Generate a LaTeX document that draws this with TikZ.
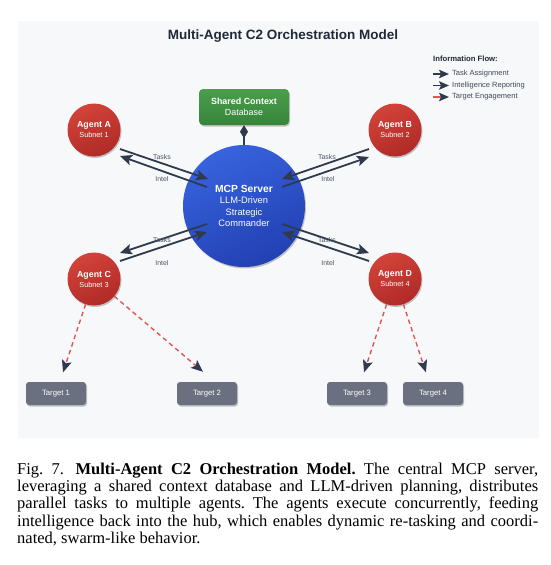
\documentclass[tikz,border=0pt]{standalone}
\usepackage{fontspec}
\setmainfont{Liberation Serif}
\newfontfamily\arialf{Liberation Sans}
\usetikzlibrary{arrows.meta,calc,shadows}
\definecolor{panelbg}{HTML}{F7F8FA}
\definecolor{titlec}{HTML}{1F2937}
\definecolor{agtop}{HTML}{D2433A}
\definecolor{agbot}{HTML}{B02A26}
\definecolor{mcptop}{HTML}{3763DE}
\definecolor{mcpbot}{HTML}{2240B2}
\definecolor{dbtop}{HTML}{4A9E4D}
\definecolor{dbbot}{HTML}{378439}
\definecolor{tgray}{HTML}{6B7080}
\definecolor{arrowc}{HTML}{2F3A4C}
\definecolor{redc}{HTML}{E25555}
\definecolor{lblc}{HTML}{4B5563}
\begin{document}
\begin{tikzpicture}[x=1pt,y=-1pt,
  shad/.style={drop shadow={shadow xshift=1pt,shadow yshift=-1.5pt,opacity=0.22,fill=black}},
  agent/.style={circle,minimum size=53pt,inner sep=0pt,shad,top color=agtop,bottom color=agbot,shading angle=25,text=white,align=center,font=\arialf\fontsize{7.3}{10}\selectfont},
  mcpnode/.style={circle,minimum size=122pt,inner sep=0pt,shad,top color=mcptop,bottom color=mcpbot,shading angle=25,text=white,align=center,font=\arialf\fontsize{9.3}{11.3}\selectfont},
  dbbox/.style={rectangle,rounded corners=4pt,minimum width=90pt,minimum height=36pt,inner sep=0pt,shad,top color=dbtop,bottom color=dbbot,text=white,align=center,font=\arialf\fontsize{8.9}{11}\selectfont},
  target/.style={rectangle,rounded corners=3pt,minimum width=60pt,minimum height=23pt,inner sep=0pt,fill=tgray,shad,text=white,font=\arialf\fontsize{7.7}{9}\selectfont},
  flow/.style={draw=arrowc,line width=1.8pt,-{Stealth[length=12pt,width=10.5pt,inset=2.5pt]}},
  attack/.style={draw=redc,line width=1.4pt,dash pattern=on 4.5pt off 3.5pt,shorten >=10pt,-{Stealth[length=12pt,width=10pt,inset=2.5pt,color=arrowc]}},
  dbline/.style={draw=arrowc,line width=1.5pt,{Diamond[length=13pt,width=8pt]}-},
  lbl/.style={font=\arialf\fontsize{6.9}{8}\selectfont,text=lblc,inner sep=0pt},
  legh/.style={font=\arialf\bfseries\fontsize{7.7}{9}\selectfont,text=titlec,inner sep=0pt,anchor=west},
  legt/.style={font=\arialf\fontsize{7.5}{9}\selectfont,text=titlec!85!white,inner sep=0pt,anchor=west},
  legflow/.style={draw=arrowc,line width=1.5pt,-{Stealth[length=10pt,width=8.5pt,inset=2pt]}},
  legatk/.style={draw=redc,line width=1.5pt,-{Stealth[length=10pt,width=8.5pt,inset=2pt,color=arrowc]}}
]
\useasboundingbox (0,0) rectangle (550,565);
\fill[white] (0,0) rectangle (550,565);
\fill[panelbg] (18,21) rectangle (539,438);

\node[font=\arialf\bfseries\fontsize{13.5}{16}\selectfont,text=titlec] (title) at (283,36) {Multi-Agent C2 Orchestration Model};

% legend
\node[legh] (legh) at (433,59) {Information Flow:};
\node[legt] (l1) at (452,74) {Task Assignment};
\node[legt] (l2) at (452,85.5) {Intelligence Reporting};
\node[legt] (l3) at (452,97) {Target Engagement};
\draw[legflow] ($(l1.west)+(-19,0)$) -- ($(l1.west)+(-3,0)$);
\draw[legflow] ($(l2.west)+(-19,0)$) -- ($(l2.west)+(-3,0)$);
\draw[legatk] ($(l3.west)+(-19,0)$) -- ($(l3.west)+(-3,0)$);

% nodes
\node[dbbox] (scdb) at (244,107) {{\bfseries Shared Context}\\Database};
\node[mcpnode] (mcp) at (244,206) {{\fontsize{10.3}{11.3}\selectfont\bfseries MCP Server}\\LLM-Driven\\Strategic\\Commander};
\node[agent] (A) at (94,130) {{\fontsize{8.8}{10}\selectfont\bfseries Agent A}\\Subnet 1};
\node[agent] (B) at (395,130) {{\fontsize{8.8}{10}\selectfont\bfseries Agent B}\\Subnet 2};
\node[agent] (C) at (94,279) {{\fontsize{8.8}{10}\selectfont\bfseries Agent C}\\Subnet 3};
\node[agent] (D) at (395,279) {{\fontsize{8.8}{10}\selectfont\bfseries Agent D}\\Subnet 4};
\node[target] (t1) at (56,393.5) {Target 1};
\node[target] (t2) at (207,393.5) {Target 2};
\node[target] (t3) at (357,393.5) {Target 3};
\node[target] (t4) at (433,393.5) {Target 4};

% database link
\draw[dbline] (scdb.south) -- (mcp.north);

% task / intel flows
\draw[flow] ($(A)+(26,19)$) -- ($(mcp)+(-36,-27)$);
\draw[flow] ($(mcp)+(-37,-19)$) -- ($(A)+(26,26)$);
\draw[flow] ($(B)+(-26,19)$) -- ($(mcp)+(38,-27)$);
\draw[flow] ($(mcp)+(38,-19)$) -- ($(B)+(-26,27)$);
\draw[flow] ($(mcp)+(-37,18)$) -- ($(C)+(26,-26)$);
\draw[flow] ($(C)+(26,-18)$) -- ($(mcp)+(-37,26)$);
\draw[flow] ($(mcp)+(38,18)$) -- ($(D)+(-26,-26)$);
\draw[flow] ($(D)+(-26,-18)$) -- ($(mcp)+(38,26)$);

\node[lbl] (la1) at (162,157) {Tasks};
\node[lbl] (la2) at (162,179.5) {Intel};
\node[lbl] (lb1) at (327,157) {Tasks};
\node[lbl] (lb2) at (328,179.5) {Intel};
\node[lbl] (lc1) at (162,240) {Tasks};
\node[lbl] (lc2) at (162,263) {Intel};
\node[lbl] (ld1) at (327,240) {Tasks};
\node[lbl] (ld2) at (328,263) {Intel};

% target engagement
\draw[attack] (C) -- (t1);
\draw[attack,shorten >=0pt] (C) -- ($(t2.north)+(-4,-10)$);
\draw[attack] (D) -- (t3);
\draw[attack] (D) -- (t4);

% caption
\node[anchor=base west,inner sep=0pt] (cap) at (17,474) {\parbox[t]{521pt}{\fontsize{16.5}{17.4}\selectfont\frenchspacing\tolerance=10000\hyphenpenalty=10000
Fig.~7.\hspace{0.7em}\textbf{Multi-Agent C2 Orchestration Model.} The central MCP server,\linebreak
leveraging a shared context database and LLM-driven planning, distributes\linebreak
parallel tasks to multiple agents. The agents execute concurrently, feeding\linebreak
intelligence back into the hub, which enables dynamic re-tasking and coordi-\linebreak
nated, swarm-like behavior.}};
\end{tikzpicture}
\end{document}
